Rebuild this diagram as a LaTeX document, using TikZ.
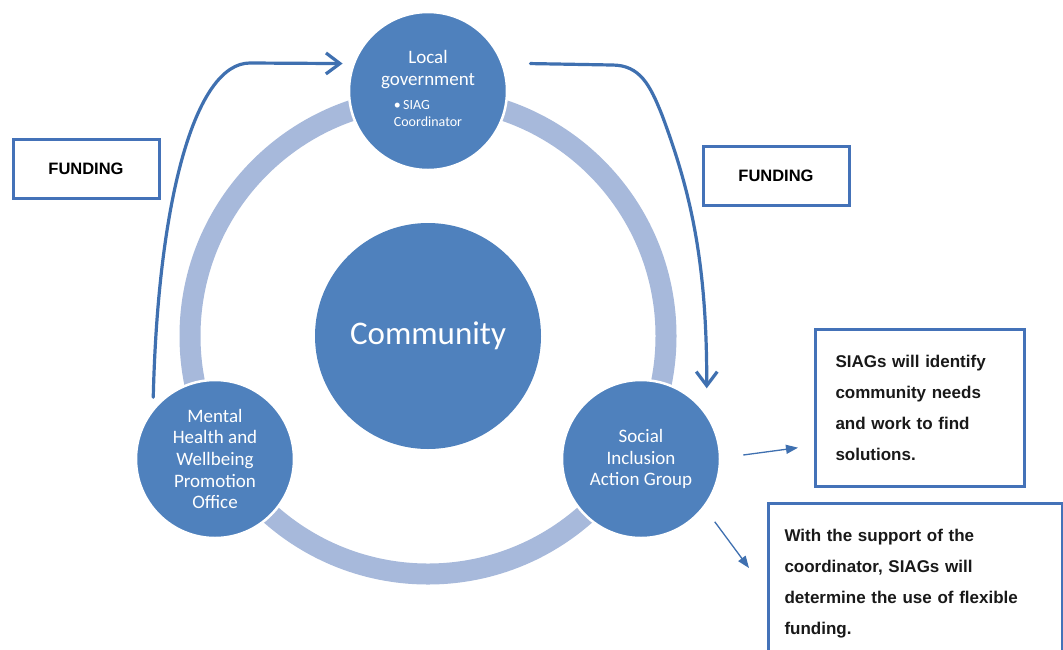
\documentclass[tikz,border=0pt]{standalone}
\usepackage{fontspec}
\setmainfont{Carlito}
\newfontfamily\labelfont{Liberation Sans}
\usetikzlibrary{arrows.meta}
\definecolor{hubblue}{HTML}{4F81BD}
\definecolor{ringblue}{HTML}{A7B9DB}
\definecolor{lineblue}{HTML}{3F70B0}
\definecolor{framecol}{HTML}{4472B8}

\begin{document}
\begin{tikzpicture}[x=1pt,y=-1pt,
  hub/.style={circle, fill=hubblue, draw=white, line width=2.5pt, inner sep=0pt,
    text=white, align=center, font=\fontsize{19}{21.7}\selectfont, minimum size=158pt},
  fundarrow/.style={draw=lineblue, line width=3.2pt, line cap=round,
    -{Straight Barb[length=14pt,width=21pt]}},
  notearrow/.style={draw=lineblue, line width=1.3pt, -{Triangle[length=12pt,width=9pt]}},
  fundbox/.style={draw=framecol, line width=3pt, fill=white, minimum width=146pt,
    minimum height=59pt, font=\labelfont\bfseries\fontsize{16.5}{20}\selectfont},
  notebox/.style={draw=framecol, line width=3pt, fill=white, anchor=north west,
    align=left, text=black!90, font=\labelfont\bfseries\fontsize{17}{31}\selectfont}
]
% canvas
\fill[white] (0,0) rectangle (1063,649);
\useasboundingbox (0,0) rectangle (1063,649);
\clip (0,0) rectangle (1063,649);

% cycle ring behind the circles
\draw[ringblue, line width=21pt] (428,336) circle (238pt);

% centre and satellite circles
\node[hub, draw=none, minimum size=226pt, font=\fontsize{33}{36}\selectfont] (comm) at (428,336) {Community};
\node[hub] (gov) at (428,91) {Local\\government\\[3pt]{\fontsize{14}{17}\selectfont\begin{tabular}[t]{@{}l@{}}\textbullet\,SIAG\\Coordinator\end{tabular}}};
\node[hub] (mh) at (215,459) {Mental\\Health and\\Wellbeing\\Promotion\\Office};
\node[hub] (sia) at (641,459) {Social\\Inclusion\\Action Group};

% funding labels
\node[fundbox] (fundL) at (86,169) {FUNDING};
\node[fundbox] (fundR) at (776,176) {FUNDING};

% funding flows
\draw[fundarrow] ([shift={(-5pt,5pt)}]mh.135) .. controls (158,200) and (195,63) .. (250,63)
  -- ([xshift=-10pt]gov.160);
\draw[fundarrow] ([xshift=27pt]gov.20) -- (612,65) .. controls (640,65) and (650,85) .. (662,115)
  .. controls (690,190) and (707,260) .. ([shift={(11pt,12pt)}]sia.47);

% notes on the action group
\node[notebox, inner xsep=20pt, inner ysep=25.6pt, text width=169pt] (note1) at (814,328)
  {SIAGs will identify\\community needs\\and work to find\\solutions.};
\node[notebox, inner xsep=16pt, inner ysep=26pt, text width=262pt] (note2) at (767,502)
  {With the support of the\\coordinator, SIAGs will\\determine the use of flexible\\funding.};

\draw[notearrow] ([shift={(22pt,4pt)}]sia.east) -- ([shift={(-16pt,40pt)}]note1.south west);
\draw[notearrow] ([shift={(17pt,-6pt)}]sia.south east) -- ([shift={(-18pt,-66pt)}]note2.north west);
\end{tikzpicture}
\end{document}
